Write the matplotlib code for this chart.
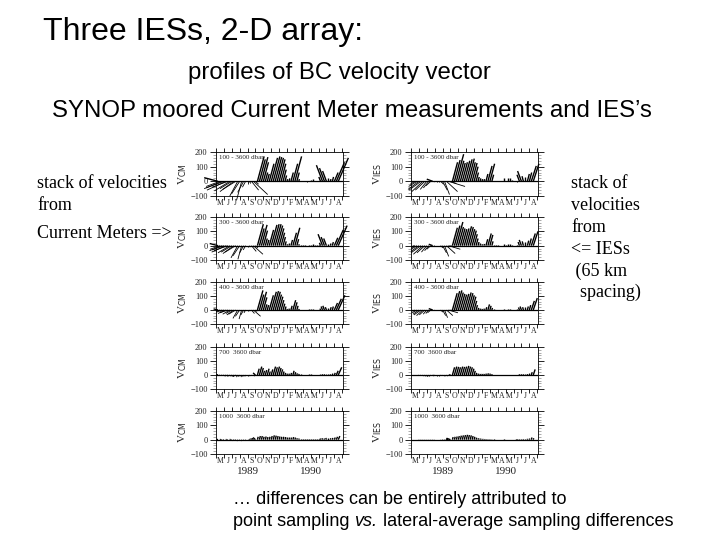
import matplotlib
matplotlib.use('agg')
import matplotlib.pyplot as plt
import numpy as np

months = ['M', 'J', 'J', 'A', 'S', 'O', 'N', 'D', 'J', 'F', 'M', 'A', 'M', 'J', 'J', 'A']
depth_labels = ['100 - 3600 dbar', '300 - 3600 dbar', '400 - 3600 dbar', '700  3600 dbar', '1000  3600 dbar']
yticks = [200, 100, 0, -100]

# stick base time, months since May 1989 (4 per month)
t = np.arange(1, 63) * 0.25

# velocity of each stick, one row per month
cm_v = [
    [25, -35, -50, -45, -60, -40, -65, -50, -70, -55, -100, -85, -130, -75, -40, -15,
     -15, -60, -90, -20, 170, 150, 165, 130, 60, 50, 120, 160, 170, 165, 160, 150,
     120, 80, 40, 15, 20, 60, 120, 170, 60, 15, 5, 3, 3, -5, 5, 8,
     15, 5, 3, 3, 30, 110, 90, 70, 20, 15, 30, 60, 130, 160],
    [15, -25, -35, -30, -45, -35, -50, -45, -55, -45, -85, -70, -95, -50, -30, -10,
     -10, -40, -60, -15, 150, 120, 145, 105, 50, 40, 110, 145, 150, 150, 140, 120,
     90, 60, 30, 10, 15, 40, 90, 125, 45, 10, 3, 3, 3, -5, 5, 8,
     10, 3, 3, 3, 20, 80, 60, 50, 15, 15, 25, 55, 110, 140],
    [8, -10, -15, -10, -25, -20, -30, -25, -35, -30, -60, -45, -65, -35, -20, -8,
     -8, -25, -45, -10, 140, 110, 130, 90, 40, 35, 105, 130, 135, 130, 110, 95,
     70, 45, 25, 8, 10, 30, 70, 55, 30, 8, 3, 3, 3, -3, 5, 10,
     8, 3, 3, 3, 10, 25, 30, 20, 15, 20, 25, 50, 80, 105],
    [3, -3, -3, -3, -5, -8, -10, -8, -10, -12, -15, -12, -15, -12, -10, -8,
     -8, -5, -8, 15, 45, 60, 50, 30, 35, 45, 25, 40, 60, 55, 60, 50,
     40, 25, 15, 10, 10, 15, 30, 20, 12, 8, 5, 3, 3, 3, 5, 5,
     3, 3, 3, 3, 3, 5, 5, 3, 5, 5, 10, 15, 30, 55],
    [2, 2, -3, -3, 2, -3, 3, -3, -8, -5, -10, -8, -10, -5, -8, -5,
     5, 8, 10, 15, 20, 25, 25, 20, 22, 18, 20, 25, 30, 28, 25, 22,
     20, 20, 18, 15, 15, 15, 18, 15, 10, 8, 5, 3, 3, 3, 5, 3,
     5, 5, 3, 8, 8, 10, 8, 12, 10, 10, 12, 15, 20, 25],
]
ies_v = [
    [5, -20, -35, -55, -60, -70, -60, -55, -45, -30, 15, -5, -5, -3, -20, -60,
     -90, -70, -35, -15, 130, 145, 185, 140, 125, 130, 140, 150, 155, 130, 125, 100,
     60, 30, 20, 15, 15, 50, 105, 120, 45, 5, 3, 3, 3, 5, 25, 3,
     20, 25, 8, 3, 3, -3, 45, 70, 35, 30, 50, 60, 105, 120],
    [3, -15, -25, -40, -50, -60, -50, -45, -35, -25, 10, -5, -3, -3, -15, -50,
     -75, -55, -25, -10, 125, 140, 165, 130, 120, 115, 120, 135, 130, 115, 105, 80,
     50, 25, 15, 10, 12, 45, 85, 75, 30, 5, 3, 3, -3, -3, 15, 3,
     15, 15, 5, -3, -5, 5, 25, 40, 30, 25, 35, 50, 85, 100],
    [2, -10, -20, -30, -35, -40, -35, -30, -25, -20, 10, -3, -3, -3, -15, -40,
     -55, -40, -20, -8, 120, 135, 140, 125, 115, 110, 115, 125, 120, 105, 95, 65,
     35, 15, 10, 8, 10, 20, 40, 30, 15, 5, 3, 3, 3, 3, 10, 3,
     8, 8, 3, 3, 3, 8, 18, 25, 20, 20, 25, 35, 65, 85],
    [0, 0, 0, -2, -2, -5, -8, -10, -12, -10, -5, -8, -10, -8, -5, -5,
     -10, -8, -3, 3, 55, 60, 58, 55, 60, 58, 60, 65, 60, 55, 45, 30,
     15, 10, 8, 8, 8, 10, 12, 10, 6, 3, 2, 2, 2, 2, 3, 2,
     2, 2, 2, 2, 2, 3, 5, 5, 5, 5, 6, 10, 20, 40],
    [0, 0, 0, 1, 1, 1, 1, 1, 1, 1, -1, -1, -1, -1, -1, 2,
     2, 3, 5, 10, 18, 20, 22, 25, 28, 30, 32, 34, 32, 30, 25, 20,
     14, 10, 8, 6, 5, 4, 3, 3, 2, 2, 1, 1, 1, 1, 2, 1,
     1, 1, 1, 1, 2, 3, 3, 3, 4, 5, 6, 8, 15, 10],
]

# sideways lean of each stick, months per unit of velocity
cm_lean = [-.07, .05, .045, .05, .04, .05, .03, .03, .025, .03, .01, .012, .005, .01, .01, .0,
           -.01, -.015, -.02, -.02, .005, .005, .005, .005, .005, .005, .005, .005, .005, .005, .005, .005,
           .005, .005, .005, .005, .005, .005, .005, .005, .005, .005, .0, .0, .0, .0, .0, .0,
           .0, .0, .0, .0, -.007, -.007, -.007, -.007, .0, .005, .005, .008, .008, .008]
ies_lean = [.0, .03, .03, .025, .025, .02, .02, .015, .015, .02, -.05, .02, .0, .0, -.02, -.01,
            -.007, -.02, -.06, -.05, .005, .005, .005, .005, .005, .005, .005, .005, .005, .005, .005, .005,
            .005, .005, .005, .005, .005, .005, .005, .005, .005, .0, .0, .0, .0, .0, .0, .0,
            .0, .0, .0, .0, .0, .0, -.007, -.007, -.005, .0, .005, .005, .006, .006]

W, H = 720, 540
fig = plt.figure(figsize=(W / 100, H / 100), dpi=100)


def put(x, y, s, size, family='Liberation Sans', **kw):
    return fig.text(x / W, 1 - y / H, s, fontsize=size * 0.72, family=family, va='center', **kw)


def panel(x0, top, bottom, v, lean, label, ylab):
    ax = fig.add_axes([x0 / W, 1 - bottom / H, 127 / W, (bottom - top) / H])
    for ti, vi, li in zip(t, v, lean):
        # the summer fans are drawn finer than the solid winter sticks
        ax.plot([ti, ti + li * vi], [0, vi], color='k', lw=1.0 if vi > 0 else 0.6,
                solid_capstyle='butt', clip_on=False)
    ax.axhline(0, color='k', lw=0.9)
    ax.set_xlim(0, 16.1)
    ax.set_ylim(-100, 200)
    ax.set_yticks(yticks)
    ax.set_yticklabels(['200', '100', '0', '\u2212100'], fontsize=6, family='Liberation Serif')
    ax.set_yticks(np.arange(-100, 201, 20), minor=True)
    ax.set_xticks(np.arange(17))
    ax.set_xticklabels([])
    ax.tick_params(axis='y', which='major', length=4.5, width=0.6, left=True, right=True, pad=1.5, labelcolor='#222222')
    ax.tick_params(axis='y', which='minor', length=2.5, width=0.5, left=True, right=True, color='#888888')
    ax.tick_params(axis='x', length=3, width=0.6, top=True, bottom=True)
    for s in ax.spines.values():
        s.set_linewidth(0.6)
    for i, m in enumerate(months):
        ax.text(i + 0.5, -0.16, m, transform=ax.get_xaxis_transform(), ha='center', va='center',
                fontsize=5.6, family='Liberation Serif', color='#222222')
    ax.text(0.025, 0.865, label, transform=ax.transAxes, va='center', fontsize=5,
            family='Liberation Serif', color='#222222')
    ax.text(-0.26, 0.5, ylab, transform=ax.transAxes, rotation=90, ha='center', va='center',
            fontsize=8, family='Liberation Serif', color='#222222')
    return ax


tops = [152, 217, 282, 347, 411]
bottoms = [196, 260, 324, 389, 454]
for i in range(5):
    panel(216, tops[i], bottoms[i], cm_v[i], cm_lean, depth_labels[i], r'V$_{\mathrm{CM}}$')
    panel(411, tops[i], bottoms[i], ies_v[i], ies_lean, depth_labels[i], r'V$_{\mathrm{IES}}$')

for x, yr in [(248, '1989'), (311, '1990'), (443, '1989'), (506, '1990')]:
    put(x, 471, yr, 11, family='Liberation Serif', ha='center', color='#222222')

put(43, 32, 'Three IESs, 2-D array:', 32)
put(188, 73, 'profiles of BC velocity vector', 24)
put(52, 111, 'SYNOP moored Current Meter measurements and IES\u2019s', 24)

for y, s in [(184, 'stack of velocities'), (205, 'from'), (233, 'Current Meters =>')]:
    put(37, y, s, 18, family='Liberation Serif')
for y, s in [(184, 'stack of'), (206, 'velocities'), (227, 'from'), (249, '<= IESs'),
             (271, ' (65 km'), (292, '  spacing)')]:
    put(571, y, s, 18, family='Liberation Serif')

put(233, 500, '\u2026 differences can be entirely attributed to', 18)

# last line mixes roman and italic, so lay the pieces end to end
x = 233
renderer = fig.canvas.get_renderer()
for s, style in [('point sampling ', 'normal'), ('vs.', 'italic'), (' lateral-average sampling differences', 'normal')]:
    txt = put(x, 522, s.replace(' ', '\u00a0'), 18, style=style)
    x += txt.get_window_extent(renderer).width

plt.savefig('out.png', dpi=100)
